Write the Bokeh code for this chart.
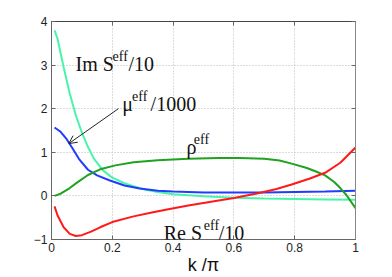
from bokeh.plotting import figure
from bokeh.models import Label, Arrow, OpenHead, FixedTicker, Range1d, LinearAxis
from bokeh.embed import file_html
from bokeh.resources import INLINE

# data
k_im = [0.01, 0.02, 0.04, 0.06, 0.08, 0.10, 0.12, 0.14, 0.17, 0.20, 0.24, 0.27, 0.31, 0.35, 0.40, 0.50, 0.60, 0.70, 0.80, 0.90, 1.0]
im_s = [3.8, 3.6, 2.95, 2.35, 1.85, 1.45, 1.12, 0.85, 0.58, 0.42, 0.29, 0.22, 0.14, 0.09, 0.04, -0.01, -0.04, -0.06, -0.07, -0.08, -0.09]

k_mu = [0.01, 0.03, 0.05, 0.07, 0.09, 0.12, 0.15, 0.19, 0.24, 0.29, 0.35, 0.40, 0.50, 0.60, 0.70, 0.80, 0.90, 1.0]
mu = [1.57, 1.47, 1.3, 1.08, 0.85, 0.6, 0.47, 0.36, 0.24, 0.17, 0.12, 0.1, 0.08, 0.08, 0.08, 0.09, 0.1, 0.12]

k_rho = [0.01, 0.03, 0.06, 0.085, 0.12, 0.16, 0.21, 0.27, 0.35, 0.45, 0.55, 0.62, 0.70, 0.75, 0.79, 0.84, 0.87, 0.90, 0.93, 0.95, 0.97, 1.0]
rho = [0.0, 0.05, 0.18, 0.31, 0.48, 0.61, 0.7, 0.77, 0.82, 0.85, 0.87, 0.87, 0.85, 0.81, 0.74, 0.64, 0.56, 0.47, 0.32, 0.18, 0.02, -0.28]

k_re = [0.01, 0.02, 0.04, 0.06, 0.08, 0.10, 0.13, 0.16, 0.20, 0.27, 0.33, 0.38, 0.45, 0.52, 0.60, 0.68, 0.74, 0.79, 0.85, 0.90, 0.95, 1.0]
re_s = [-0.24, -0.45, -0.72, -0.87, -0.92, -0.9, -0.82, -0.72, -0.6, -0.47, -0.38, -0.31, -0.22, -0.14, -0.05, 0.06, 0.16, 0.26, 0.4, 0.53, 0.76, 1.11]

x_ticks = [0, 0.2, 0.4, 0.6, 0.8, 1.0]
y_ticks = [-1, 0, 1, 2, 3, 4]

p = figure(width=384, height=277, output_backend="svg", toolbar_location=None,
           x_range=Range1d(0, 1), y_range=Range1d(-1, 4),
           min_border_left=51, min_border_right=29, min_border_top=21, min_border_bottom=38)
p.background_fill_color = "white"
p.border_fill_color = "white"
p.outline_line_color = "#666666"
p.outline_line_width = 1

for ax, ticks in ((p.xaxis, x_ticks), (p.yaxis, y_ticks)):
    ax.ticker = FixedTicker(ticks=ticks)
    ax.major_tick_in = 4
    ax.major_tick_out = 0
    ax.minor_tick_line_color = None
    ax.axis_line_color = "#666666"
    ax.major_tick_line_color = "#666666"
    ax.major_label_text_font = "Liberation Sans"
    ax.major_label_text_font_size = "12px"
    ax.major_label_text_color = "#222222"
p.xaxis.major_label_standoff = 3
p.yaxis.major_label_standoff = 4
p.yaxis.major_label_overrides = {-1: "\u22121"}
p.xaxis.axis_label = "k /\u03c0"
p.xaxis.axis_label_text_font = "Liberation Sans"
p.xaxis.axis_label_text_font_style = "normal"
p.xaxis.axis_label_text_font_size = "18px"
p.xaxis.axis_label_text_color = "#111111"
p.xaxis.axis_label_standoff = 0

for loc, ticks in (("above", x_ticks), ("right", y_ticks)):
    a = LinearAxis(ticker=FixedTicker(ticks=ticks))
    a.major_tick_in = 4
    a.major_tick_out = 0
    a.minor_tick_line_color = None
    a.major_label_overrides = {t: "" for t in ticks}
    a.major_label_standoff = 0
    a.major_label_text_font_size = "8px"
    a.axis_line_color = "#444444" if loc == "above" else "#888888"
    a.major_tick_line_color = "#666666"
    p.add_layout(a, loc)

p.grid.grid_line_color = "#b8b8b8"
p.grid.grid_line_dash = "1 2"
p.grid.grid_line_width = 1
p.xgrid.ticker = FixedTicker(ticks=x_ticks)
p.ygrid.ticker = FixedTicker(ticks=y_ticks)

p.line(k_im, im_s, line_color="#48f5a8", line_width=2)
p.line(k_mu, mu, line_color="#1f3cff", line_width=2)
p.line(k_rho, rho, line_color="#1fa31f", line_width=2)
p.line(k_re, re_s, line_color="#ff1a1a", line_width=2)

font = "Liberation Serif"
def lab(x, y, t, size):
    p.add_layout(Label(x=x, y=y, text=t, text_font=font, text_font_size=size,
                       text_color="#111111", text_baseline="alphabetic", text_align="left"))

lab(0.079, 3.03, "Im S", "20px")
lab(0.201, 3.19, "eff", "14px")
lab(0.253, 3.03, "/10", "20px")

lab(0.233, 2.11, "\u03bc", "20px")
lab(0.265, 2.29, "eff", "14px")
lab(0.326, 2.11, "/1000", "20px")

lab(0.444, 1.13, "\u03c1", "20px")
lab(0.468, 1.30, "eff", "14px")

lab(0.369, -0.84, "Re S", "20px")
lab(0.501, -0.69, "eff", "14px")
lab(0.55, -0.84, "/10", "20px")

p.add_layout(Arrow(end=OpenHead(size=8, line_width=1, line_color="#222222"),
                   x_start=0.22, y_start=2.0, x_end=0.057, y_end=1.2,
                   line_width=1, line_color="#222222"))

open("out.html", "w").write(file_html(p, INLINE))
